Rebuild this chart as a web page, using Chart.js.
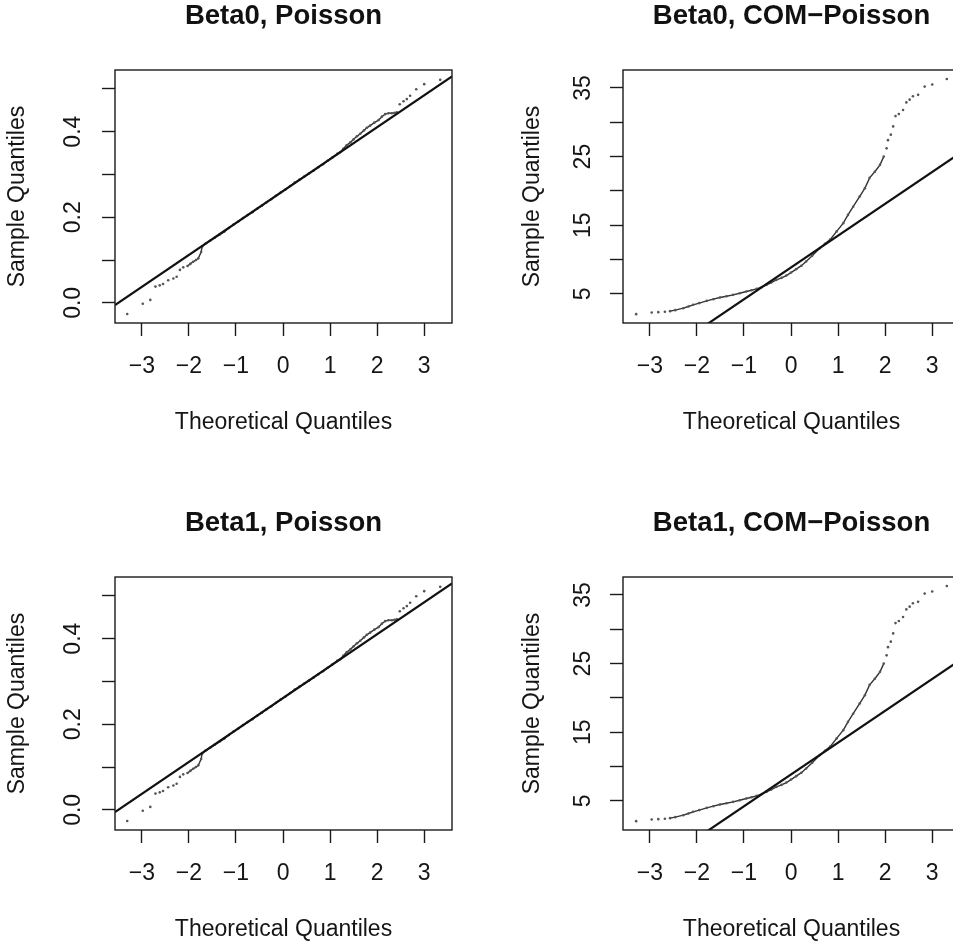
<!DOCTYPE html>
<html>
<head>
<meta charset="utf-8">
<script src="https://cdn.jsdelivr.net/npm/chart.js@4.4.1/dist/chart.umd.min.js"></script>
<style>
  html, body { margin: 0; padding: 0; background: #fff; overflow: hidden; }
  body { width: 953px; height: 943px; position: relative; }
  .panel { position: absolute; width: 476px; height: 440px; }
</style>
</head>
<body>
<div class="panel" style="left:0;top:0"><canvas id="c1"></canvas></div>
<div class="panel" style="left:508px;top:0"><canvas id="c2"></canvas></div>
<div class="panel" style="left:0;top:507px"><canvas id="c3"></canvas></div>
<div class="panel" style="left:508px;top:507px"><canvas id="c4"></canvas></div>
<script>
// axis ticks
const xTicks = [-3, -2, -1, 0, 1, 2, 3];
const xTickLabels = ['\u22123', '\u22122', '\u22121', '0', '1', '2', '3'];
const poisTicks = [0, 0.1, 0.2, 0.3, 0.4, 0.5];
const poisTickLabels = ['0.0', '', '0.2', '', '0.4', ''];
const comTicks = [5, 10, 15, 20, 25, 30, 35];
const comTickLabels = ['5', '', '15', '', '25', '', '35'];

// sample quantiles (Poisson)
const poisX = [-3.31, -2.98, -2.82, -2.71, -2.62, -2.55, -2.44, -2.33, -2.26, -2.19,
  -2.12, -2.03, -1.97, -1.91, -1.85, -1.80, -1.74, -1.72, -1.65, -1.55,
  -1.45, -1.35, -1.25, -1.15, -1.05, -0.95, -0.85, -0.75, -0.65, -0.55,
  -0.45, -0.35, -0.25, -0.15, -0.05, 0.05, 0.15, 0.25, 0.35, 0.45,
  0.55, 0.65, 0.75, 0.85, 0.95, 1.05, 1.15, 1.21, 1.28, 1.35,
  1.43, 1.50, 1.57, 1.64, 1.72, 1.78, 1.85, 1.94, 2.03, 2.10,
  2.17, 2.24, 2.31, 2.37, 2.42, 2.48, 2.56, 2.63, 2.70, 2.83,
  3.00, 3.34];
const poisY = [-0.026, -0.002, 0.007, 0.038, 0.041, 0.044, 0.053, 0.057, 0.061, 0.077,
  0.083, 0.086, 0.091, 0.096, 0.100, 0.104, 0.119, 0.131, 0.138, 0.145,
  0.152, 0.159, 0.166, 0.175, 0.183, 0.190, 0.198, 0.205, 0.212, 0.220,
  0.227, 0.235, 0.242, 0.250, 0.258, 0.265, 0.273, 0.281, 0.288, 0.295,
  0.302, 0.309, 0.317, 0.324, 0.332, 0.340, 0.348, 0.352, 0.360, 0.368,
  0.375, 0.382, 0.389, 0.395, 0.403, 0.409, 0.414, 0.421, 0.427, 0.435,
  0.441, 0.443, 0.443, 0.444, 0.445, 0.464, 0.471, 0.476, 0.484, 0.499,
  0.511, 0.521];
const poisLineX = [-3.57, 3.59];
const poisLineY = [-0.005, 0.529];

// sample quantiles (COM-Poisson)
const comX = [-3.29, -2.96, -2.82, -2.68, -2.57, -2.46, -2.29, -2.18, -2.08, -1.95,
  -1.79, -1.65, -1.51, -1.37, -1.23, -1.09, -0.95, -0.84, -0.73, -0.62,
  -0.52, -0.42, -0.31, -0.20, -0.10, 0.00, 0.11, 0.22, 0.32, 0.45,
  0.61, 0.72, 0.83, 0.97, 1.11, 1.21, 1.32, 1.46, 1.57, 1.67,
  1.78, 1.89, 1.97, 2.03, 2.06, 2.12, 2.17, 2.22, 2.29, 2.38,
  2.45, 2.52, 2.59, 2.70, 2.84, 3.00, 3.31];
const comY = [2.04, 2.27, 2.33, 2.38, 2.48, 2.62, 2.91, 3.15, 3.40, 3.65,
  3.98, 4.22, 4.46, 4.65, 4.85, 5.08, 5.34, 5.52, 5.73, 6.00,
  6.31, 6.65, 7.04, 7.33, 7.67, 8.10, 8.60, 9.10, 9.71, 10.55,
  11.66, 12.30, 12.90, 14.10, 15.30, 16.50, 17.70, 19.20, 20.40, 21.90,
  22.80, 23.80, 25.00, 26.20, 27.40, 28.20, 29.40, 30.90, 31.20, 31.80,
  32.90, 33.30, 33.80, 34.00, 35.20, 35.50, 36.30];
const comLineX = [-3.57, 3.59];
const comLineY = [-7.72, 25.51];

Chart.defaults.font.family = "'Liberation Sans', Arial, Helvetica, sans-serif";
Chart.defaults.color = '#151515';

const boxPlugin = {
  id: 'box',
  afterDraw(chart) {
    const a = chart.chartArea;
    const ctx = chart.ctx;
    ctx.save();
    ctx.strokeStyle = '#1a1a1a';
    ctx.lineWidth = 1.4;
    ctx.strokeRect(a.left, a.top, a.right - a.left, a.bottom - a.top);
    ctx.restore();
  }
};

function makePanel(id, title, xs, ys, lineX, lineY, yTicks, yLabels, yMin, yMax, dense, yTitlePad, yTickPad) {
  const pts = xs.map((x, i) => ({ x: x, y: ys[i] }));
  const line = lineX.map((x, i) => ({ x: x, y: lineY[i] }));
  new Chart(document.getElementById(id), {
    type: 'scatter',
    data: {
      datasets: [
        {
          data: line,
          showLine: true,
          borderColor: '#111',
          borderWidth: 2.2,
          pointRadius: 0
        },
        {
          data: pts,
          showLine: true,
          borderWidth: 1.4,
          segment: {
            borderColor: c => (c.p0.parsed.x >= dense[0] && c.p1.parsed.x <= dense[1]) ? '#333' : 'rgba(0,0,0,0)'
          },
          pointRadius: 1.3,
          pointBorderWidth: 0,
          pointBackgroundColor: '#555'
        }
      ]
    },
    options: {
      responsive: true,
      maintainAspectRatio: false,
      animation: false,
      layout: { padding: { left: 0, right: 24, top: 0, bottom: 0 } },
      plugins: {
        legend: { display: false },
        tooltip: { enabled: false },
        title: {
          display: true,
          text: title,
          fullSize: false,
          font: { size: 27.5, weight: 'bold' },
          color: '#111',
          padding: { top: 0, bottom: 37 }
        }
      },
      scales: {
        x: {
          type: 'linear',
          min: -3.57,
          max: 3.59,
          afterBuildTicks: s => { s.ticks = xTicks.map(v => ({ value: v })); },
          afterFit: s => { s.height = 117; },
          border: { display: false },
          grid: { drawOnChartArea: false, drawTicks: true, tickLength: 13, tickColor: '#1a1a1a', tickWidth: 1.4 },
          ticks: {
            autoSkip: false, maxRotation: 0, padding: 17,
            font: { size: 23 },
            callback: (v, i) => xTickLabels[i]
          },
          title: { display: true, text: 'Theoretical Quantiles', font: { size: 23 }, padding: { top: 0, bottom: 4 } }
        },
        y: {
          type: 'linear',
          min: yMin,
          max: yMax,
          afterBuildTicks: s => { s.ticks = yTicks.map(v => ({ value: v })); },
          afterFit: s => { s.width = 115; },
          border: { display: false },
          grid: { drawOnChartArea: false, drawTicks: true, tickLength: 13, tickColor: '#1a1a1a', tickWidth: 1.4 },
          ticks: {
            autoSkip: false, minRotation: 90, maxRotation: 90, crossAlign: 'center', padding: yTickPad,
            font: { size: 23 },
            callback: (v, i) => yLabels[i]
          },
          title: { display: true, text: 'Sample Quantiles', font: { size: 23 }, padding: { top: yTitlePad, bottom: 0 } }
        }
      }
    },
    plugins: [boxPlugin]
  });
}

makePanel('c1', 'Beta0, Poisson', poisX, poisY, poisLineX, poisLineY, poisTicks, poisTickLabels, -0.047, 0.544, [-2.05, 2.45], 3.7, 12.5);
makePanel('c2', 'Beta0, COM\u2212Poisson', comX, comY, comLineX, comLineY, comTicks, comTickLabels, 0.75, 37.62, [-2.6, 1.98], 10.7, 13.7);
makePanel('c3', 'Beta1, Poisson', poisX, poisY, poisLineX, poisLineY, poisTicks, poisTickLabels, -0.047, 0.544, [-2.05, 2.45], 3.7, 12.5);
makePanel('c4', 'Beta1, COM\u2212Poisson', comX, comY, comLineX, comLineY, comTicks, comTickLabels, 0.75, 37.62, [-2.6, 1.98], 10.7, 13.7);
</script>
</body>
</html>
